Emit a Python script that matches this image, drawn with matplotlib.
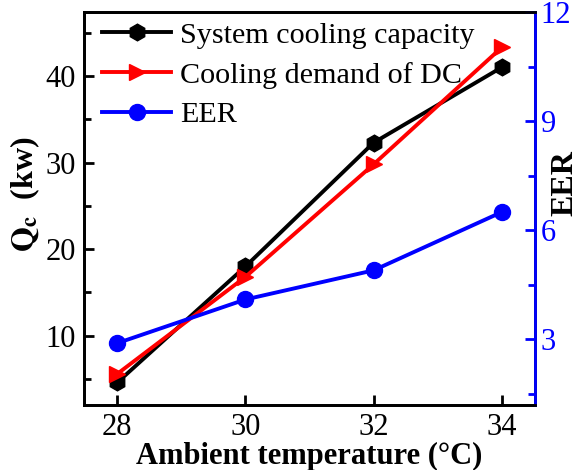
import matplotlib
matplotlib.use("Agg")
import matplotlib.pyplot as plt
from matplotlib.ticker import MultipleLocator

plt.rcParams["font.family"] = "Liberation Serif"
plt.rcParams["mathtext.fontset"] = "stix"

# data
temps = [28, 30, 32, 34]
capacity = [4.6, 18.0, 32.3, 41.0]
demand = [5.6, 16.8, 29.8, 43.3]
eer = [2.9, 4.1, 4.9, 6.5]

fig = plt.figure(figsize=(5.81, 4.70), dpi=100)
ax = fig.add_axes([0.1446, 0.1383, 0.7762, 0.8362])
ax2 = ax.twinx()

l1, = ax.plot(temps, capacity, color="black", marker="h", ms=12, lw=2.8, label="System cooling capacity")
l2, = ax.plot(temps, demand, color="red", marker=">", ms=12, lw=2.8, label="Cooling demand of DC")
l3, = ax2.plot(temps, eer, color="blue", marker="o", ms=11.5, lw=2.8, label="EER")

ax.set_xlim(27.48, 34.52)
ax.set_ylim(2.0, 47.4)
ax2.set_ylim(1.2, 12.0)

ax.set_xticks(temps)
ax.yaxis.set_major_locator(MultipleLocator(10))
ax.yaxis.set_minor_locator(MultipleLocator(5))
ax2.yaxis.set_major_locator(MultipleLocator(3))
ax2.yaxis.set_minor_locator(MultipleLocator(1.5))

for a in (ax, ax2):
    for s in a.spines.values():
        s.set_linewidth(2)
ax2.spines["right"].set_color("blue")

ax.tick_params(axis="both", which="major", direction="in", length=7, width=2, labelsize=22, pad=6)
ax.tick_params(axis="x", which="major", pad=6)
ax.tick_params(axis="y", which="minor", direction="in", length=5, width=2)
ax2.tick_params(axis="y", which="major", direction="in", length=7, width=2, labelsize=22,
                colors="blue", pad=4)
ax2.tick_params(axis="y", which="minor", direction="in", length=5, width=2, colors="blue")

ax.set_xlabel("Ambient temperature (°C)", fontsize=22, fontweight="bold")
ax.xaxis.set_label_coords(0.5, -0.094)
ax.set_ylabel(r"$\mathbf{Q_c}$  (kw)", fontsize=23, fontweight="bold")
ax.yaxis.set_label_coords(-0.093, 0.537)
ax2.set_ylabel("EER", fontsize=23, fontweight="bold")
ax2.yaxis.set_label_coords(1.035, 0.565)

ax.legend(handles=[l1, l2, l3], loc="upper left", frameon=False, fontsize=21.7,
          handlelength=2.3, handletextpad=0.3, labelspacing=0.42,
          borderpad=0.0, borderaxespad=0.0, bbox_to_anchor=(0.04, 0.975))

fig.savefig("out.png", dpi=100)
